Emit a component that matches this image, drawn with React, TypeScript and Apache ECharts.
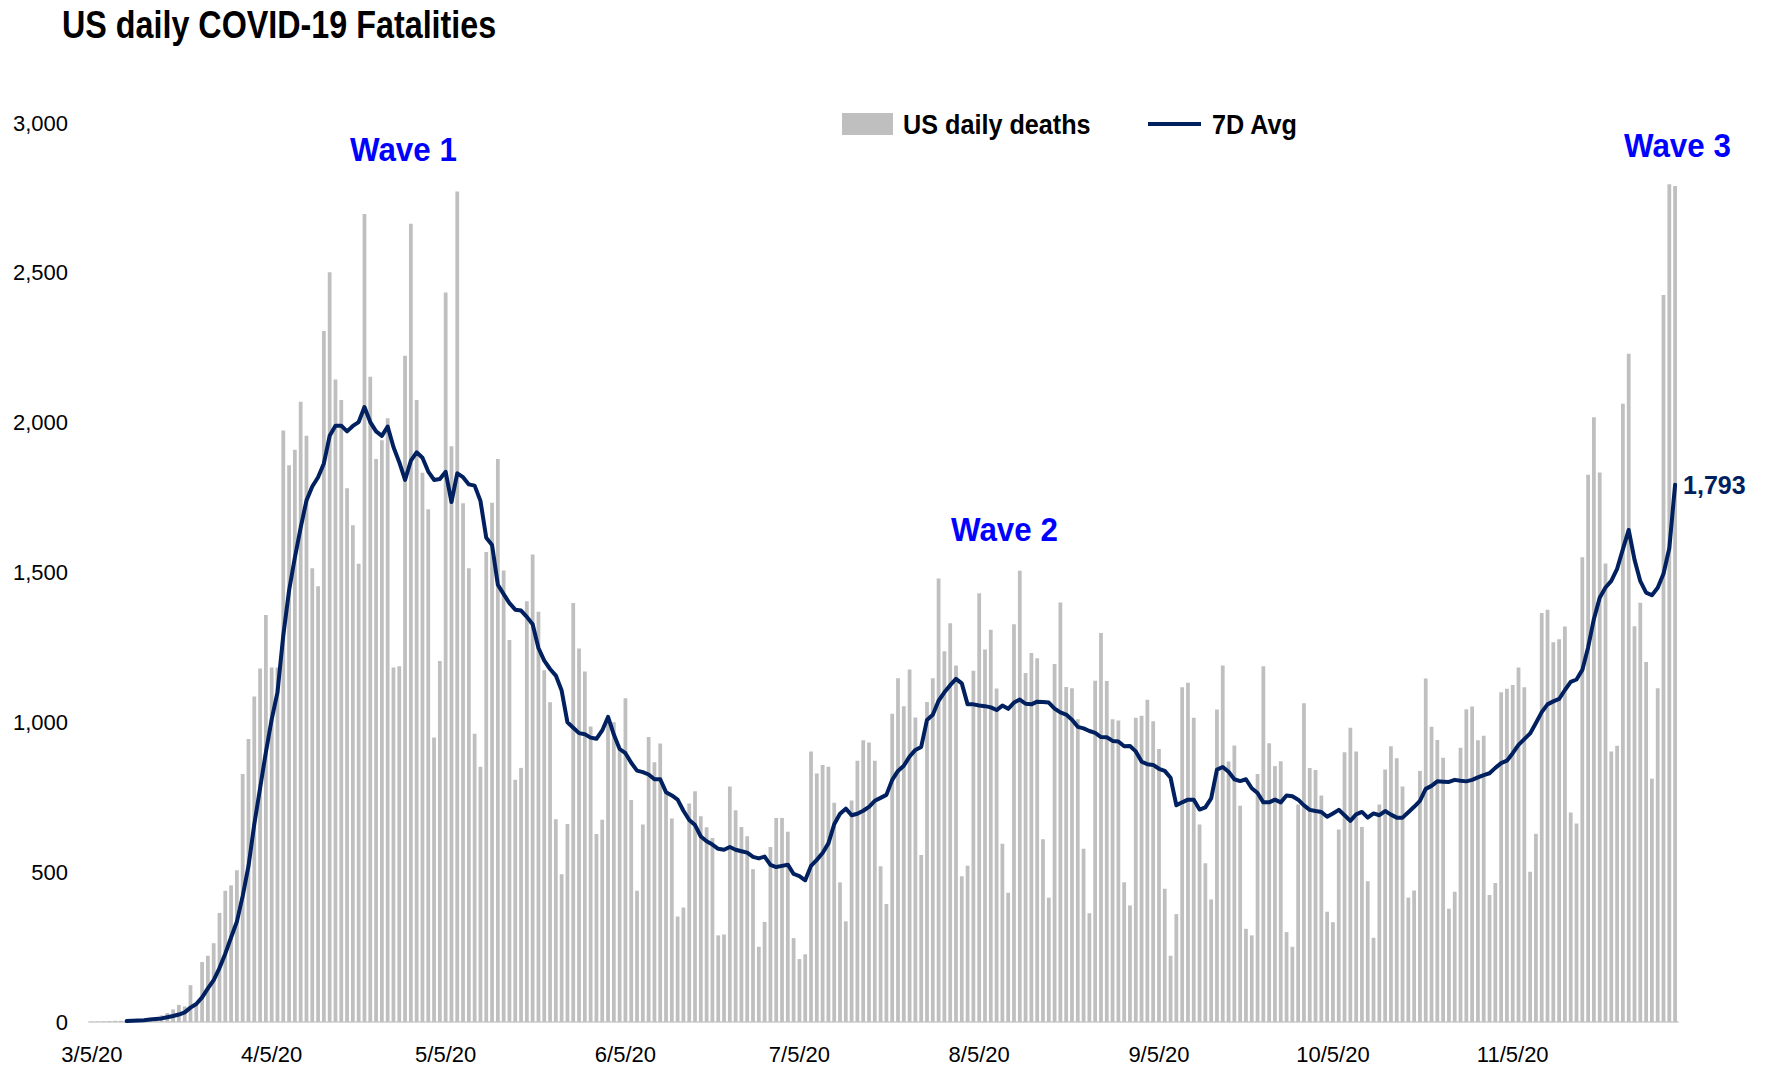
import React, { useEffect, useRef } from "react";
import * as echarts from "echarts";

// ---- daily deaths (bars), by month, starting 3/5/20 ----
const deathsMar = [1, 1, 2, 3, 4, 4, 6, 8, 7, 10, 12, 13, 22, 30, 42, 57, 52, 123, 61, 200, 221, 263, 364, 438, 456, 506, 828];
const deathsApr = [944, 1086, 1180, 1358, 1183, 1183, 1974, 1858, 1910, 2070, 1956, 1514, 1454, 2306, 2502, 2144, 2076, 1781, 1658, 1529, 2696, 2153, 1879, 1941, 2015, 1183, 1187, 2223, 2664, 2076];
const deathsMay = [1833, 1711, 949, 1205, 2434, 1921, 2771, 1731, 1514, 962, 852, 1568, 1733, 1879, 1507, 1275, 808, 848, 1404, 1560, 1369, 1174, 1067, 677, 493, 661, 1398, 1246, 1170, 986, 627];
const deathsJun = [675, 999, 1000, 907, 1080, 741, 438, 659, 951, 867, 929, 770, 679, 352, 382, 729, 770, 687, 650, 614, 289, 292, 786, 707, 651, 620, 510, 251, 334, 584];
const deathsJul = [681, 681, 635, 280, 210, 226, 903, 829, 858, 852, 732, 466, 336, 739, 872, 940, 933, 872, 520, 394, 1029, 1147, 1054, 1176, 1016, 557, 1068, 1147, 1480, 1237, 1331];
const deathsAug = [1190, 486, 521, 1172, 1431, 1243, 1309, 1113, 595, 431, 1327, 1506, 1165, 1231, 1214, 610, 415, 1195, 1400, 1118, 1114, 1010, 578, 363, 1139, 1298, 1138, 1010, 1006, 466, 389];
const deathsSep = [1015, 1022, 1075, 1004, 911, 445, 221, 360, 1117, 1132, 1015, 659, 530, 409, 1043, 1190, 869, 923, 722, 311, 289, 828, 1187, 930, 854, 870, 300, 251, 726, 1064];
const deathsOct = [848, 841, 756, 368, 333, 642, 900, 982, 903, 651, 470, 281, 726, 843, 920, 880, 786, 415, 439, 838, 1146, 985, 941, 882, 378, 435, 915, 1044, 1053, 940, 955];
const deathsNov = [424, 464, 1100, 1112, 1125, 1183, 1117, 501, 628, 1365, 1376, 1267, 1277, 1320, 699, 662, 1551, 1826, 2018, 1834, 1530, 903, 922, 2063, 2230, 1321, 1399, 1201, 812, 1114];
const deathsDec = [2426, 2796, 2790];

// ---- 7-day average (line), by month ----
const avgMar = [null, null, null, null, null, null, 3, 4, 5, 6, 8, 10, 12, 16, 20, 25, 32, 48, 60, 82, 112, 140, 180, 228, 282, 335, 420];
const avgApr = [520, 660, 780, 900, 1010, 1100, 1290, 1440, 1550, 1650, 1740, 1787, 1818, 1864, 1956, 1990, 1990, 1971, 1989, 2002, 2052, 2002, 1971, 1956, 1987, 1919, 1868, 1809, 1873, 1901];
const avgMay = [1883, 1837, 1809, 1812, 1836, 1735, 1831, 1818, 1794, 1790, 1739, 1616, 1592, 1459, 1428, 1398, 1376, 1373, 1352, 1327, 1248, 1206, 1178, 1156, 1106, 1000, 982, 964, 960, 949, 945];
const avgJun = [973, 1018, 959, 911, 897, 865, 839, 834, 826, 810, 810, 767, 756, 742, 705, 674, 657, 619, 603, 592, 578, 575, 584, 575, 570, 565, 551, 546, 552, 524];
const avgJul = [517, 521, 525, 494, 487, 473, 521, 541, 564, 596, 660, 695, 712, 690, 695, 705, 718, 738, 748, 758, 808, 838, 855, 886, 908, 918, 1008, 1025, 1072, 1100, 1124];
const avgAug = [1145, 1130, 1060, 1060, 1056, 1054, 1050, 1041, 1056, 1045, 1066, 1076, 1062, 1060, 1069, 1068, 1066, 1046, 1033, 1026, 1009, 985, 980, 971, 965, 951, 950, 938, 936, 920, 921];
const avgSep = [903, 869, 860, 858, 845, 838, 815, 723, 733, 742, 742, 709, 716, 746, 842, 851, 835, 810, 804, 810, 780, 764, 733, 733, 742, 733, 756, 753, 742, 723];
const avgOct = [708, 704, 701, 685, 696, 708, 690, 671, 693, 701, 682, 696, 690, 704, 692, 682, 682, 700, 718, 738, 778, 788, 803, 802, 801, 808, 805, 803, 808, 816, 824];
const avgNov = [830, 848, 864, 872, 897, 925, 944, 963, 998, 1034, 1060, 1070, 1078, 1108, 1135, 1143, 1175, 1250, 1345, 1416, 1450, 1472, 1512, 1578, 1642, 1543, 1471, 1433, 1424, 1449];
const avgDec = [1496, 1581, 1793];

const dailyDeaths = [...deathsMar, ...deathsApr, ...deathsMay, ...deathsJun, ...deathsJul, ...deathsAug, ...deathsSep, ...deathsOct, ...deathsNov, ...deathsDec];
const avg7 = [...avgMar, ...avgApr, ...avgMay, ...avgJun, ...avgJul, ...avgAug, ...avgSep, ...avgOct, ...avgNov, ...avgDec];

// categories: one per day from 3/5/20
const monthLengths = [31, 30, 31, 30, 31, 31, 30, 31, 30, 31]; // Mar..Dec
const categories: string[] = [];
{
  let m = 3;
  let d = 5;
  for (let i = 0; i < dailyDeaths.length; i++) {
    categories.push(`${m}/${d}/20`);
    d++;
    if (d > monthLengths[m - 3]) {
      d = 1;
      m++;
    }
  }
}

const yTicks = { min: 0, max: 3000, interval: 500 };

const ARIAL = "'Liberation Sans', Arial, Helvetica, sans-serif";
const BAR_COLOR = "#bfbfbf";
const LINE_COLOR = "#002060";
const WAVE_COLOR = "#0000ff";

function label(text: string, x: number, y: number, size: number, sx: number, fill: string) {
  return {
    type: "text",
    x,
    y,
    scaleX: sx,
    silent: true,
    style: {
      text,
      fontFamily: ARIAL,
      fontSize: size,
      fontWeight: "bold",
      fill,
      align: "left",
      verticalAlign: "middle",
      textAlign: "left",
      textVerticalAlign: "middle",
    },
  };
}

export default function App() {
  const ref = useRef<HTMLDivElement>(null);

  useEffect(() => {
    if (!ref.current) return;
    const chart = echarts.init(ref.current, undefined, { renderer: "svg" });
    chart.setOption({
      animation: false,
      backgroundColor: "#ffffff",
      grid: { left: 89, right: 87, top: 123, bottom: 46, containLabel: false },
      xAxis: {
        type: "category",
        data: categories,
        boundaryGap: true,
        axisLine: { show: true, lineStyle: { color: "#d9d9d9", width: 2 } },
        axisTick: { show: false },
        axisLabel: {
          interval: (index: number, value: string) => value.split("/")[1] === "5",
          fontFamily: ARIAL,
          fontSize: 22,
          color: "#000000",
          margin: 21,
        },
      },
      yAxis: {
        type: "value",
        min: yTicks.min,
        max: yTicks.max,
        interval: yTicks.interval,
        splitLine: { show: false },
        axisLine: { show: false },
        axisTick: { show: false },
        axisLabel: {
          fontFamily: ARIAL,
          fontSize: 22,
          color: "#000000",
          margin: 21,
          formatter: (v: number) => v.toLocaleString("en-US"),
        },
      },
      series: [
        {
          name: "US daily deaths",
          type: "bar",
          data: dailyDeaths,
          barCategoryGap: "35%",
          itemStyle: { color: BAR_COLOR },
          z: 1,
        },
        {
          name: "7D Avg",
          type: "line",
          data: avg7,
          symbol: "none",
          showSymbol: false,
          connectNulls: false,
          lineStyle: { color: LINE_COLOR, width: 4, cap: "round", join: "round" },
          itemStyle: { color: LINE_COLOR },
          z: 3,
          endLabel: {
            show: true,
            distance: 8,
            formatter: (p: any) => Number(p.value).toLocaleString("en-US"),
            fontFamily: ARIAL,
            fontSize: 25,
            fontWeight: "bold",
            color: LINE_COLOR,
          },
        },
      ],
      graphic: [
        // title
        label("US daily COVID-19 Fatalities", 62, 25, 38, 0.85, "#000000"),
        // legend
        {
          type: "rect",
          silent: true,
          shape: { x: 842, y: 113, width: 51, height: 22 },
          style: { fill: BAR_COLOR },
        },
        label("US daily deaths", 903, 125, 28, 0.9, "#000000"),
        {
          type: "line",
          silent: true,
          shape: { x1: 1148, y1: 124, x2: 1201, y2: 124 },
          style: { stroke: LINE_COLOR, lineWidth: 4 },
        },
        label("7D Avg", 1212, 125, 28, 0.9, "#000000"),
        // wave annotations
        label("Wave 1", 350, 150, 33, 0.95, WAVE_COLOR),
        label("Wave 2", 951, 530, 33, 0.95, WAVE_COLOR),
        label("Wave 3", 1624, 146, 33, 0.95, WAVE_COLOR),
      ],
    });
    return () => chart.dispose();
  }, []);

  return (
    <div
      ref={ref}
      style={{ position: "fixed", left: 0, top: 0, width: 1765, height: 1068, background: "#ffffff" }}
    />
  );
}
